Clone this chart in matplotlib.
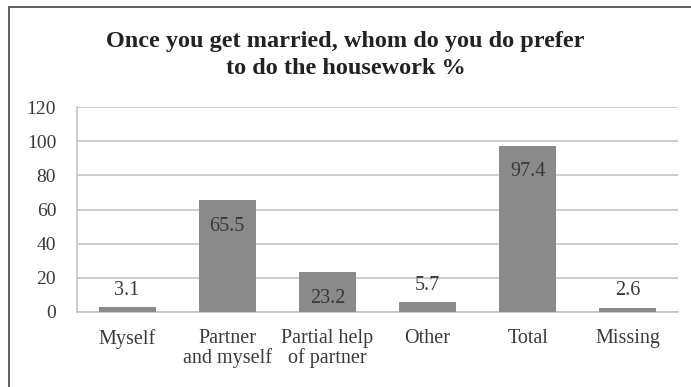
import matplotlib
matplotlib.use("Agg")
import matplotlib.pyplot as plt
from matplotlib.patches import Rectangle

categories = ["Myself", "Partner\nand myself", "Partial help\nof partner", "Other", "Total", "Missing"]
values = [3.1, 65.5, 23.2, 5.7, 97.4, 2.6]
yticks = [0, 20, 40, 60, 80, 100, 120]

plt.rcParams['font.family'] = ['Liberation Serif', 'DejaVu Serif']
txt = "#3a3a3a"
barc = "#8a8a8a"
gridc = "#c4c4c4"

W, H = 691, 387
fig = plt.figure(figsize=(W / 100, H / 100), dpi=100)
ax = fig.add_axes([77 / W, 1 - 312 / H, 601 / W, 205 / H])

x = list(range(len(values)))
ax.bar(x, values, width=0.57, color=barc, zorder=3)
ax.set_xlim(-0.5, len(values) - 0.5)
ax.set_ylim(0, 120)
ax.set_yticks(yticks)
ax.yaxis.grid(True, color=gridc, linewidth=1.2, zorder=0)
ax.set_xticks(x)
ax.set_xticklabels(categories, fontsize=14.5, color=txt, linespacing=1.0)
ax.tick_params(axis='y', labelsize=14, colors=txt, length=0, pad=15)
ax.tick_params(axis='x', length=0, pad=12)
for s in ["top", "right"]:
    ax.spines[s].set_visible(False)
for s in ["left", "bottom"]:
    ax.spines[s].set_color(gridc)
    ax.spines[s].set_linewidth(1.2)

# value labels: inside the top for tall bars, above for short ones
for xi, v in zip(x, values):
    if v > 15:
        ax.annotate(f"{v}", (xi, v), xytext=(0, -19), textcoords="offset points",
                    ha="center", va="center", fontsize=14.5, color=txt, zorder=4)
    else:
        ax.annotate(f"{v}", (xi, v), xytext=(0, 12), textcoords="offset points",
                    ha="center", va="center", fontsize=14.5, color=txt, zorder=4)

fig.text(0.5, 1 - 55 / H, "Once you get married, whom do you do prefer\nto do the housework %",
         ha="center", va="center", fontsize=17.5, fontweight="bold", color="#222222",
         linespacing=1.4)

fig.patches.append(Rectangle((9 / W, -0.1), 1.2, 1 - 7 / H + 0.1, transform=fig.transFigure,
                             fill=False, edgecolor="#444444", linewidth=1.2))

fig.savefig("out.png", dpi=100)
